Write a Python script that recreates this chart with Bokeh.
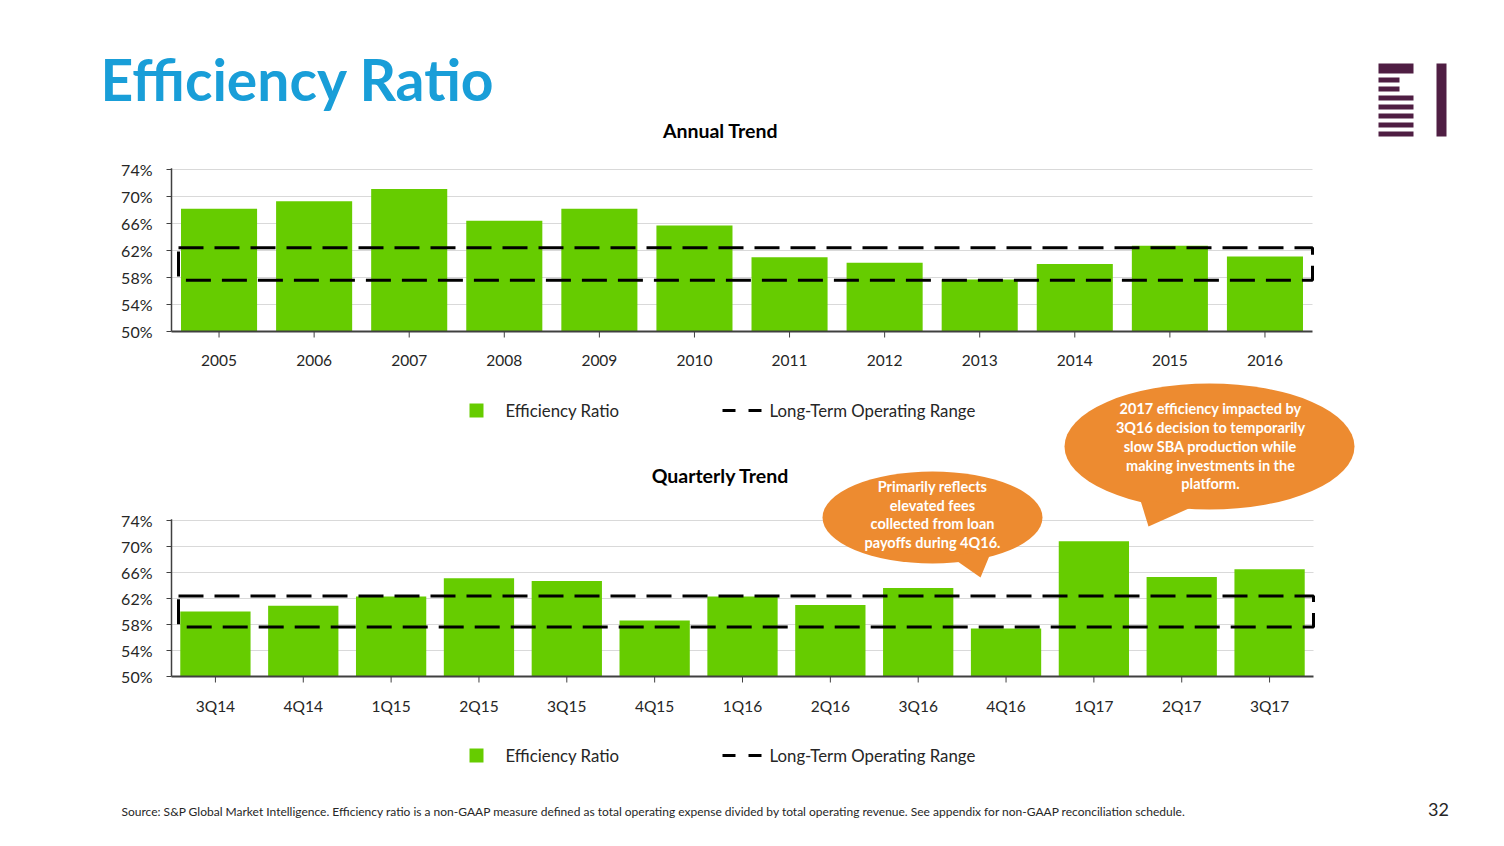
from bokeh.plotting import figure
from bokeh.models import Range1d
from bokeh.core.properties import value
from bokeh.embed import file_html
from bokeh.resources import INLINE

# ---------------- data ----------------
years = ["2005", "2006", "2007", "2008", "2009", "2010", "2011", "2012", "2013", "2014", "2015", "2016"]
annual_ratio = [68.2, 69.3, 71.1, 66.4, 68.2, 65.7, 61.0, 60.2, 57.7, 60.0, 62.7, 61.1]

quarters = ["3Q14", "4Q14", "1Q15", "2Q15", "3Q15", "4Q15", "1Q16", "2Q16", "3Q16", "4Q16", "1Q17", "2Q17", "3Q17"]
quarterly_ratio = [60.0, 60.9, 62.3, 65.1, 64.7, 58.6, 62.3, 61.0, 63.6, 57.4, 70.8, 65.3, 66.5]

y_ticks = [50, 54, 58, 62, 66, 70, 74]
y_tick_labels = ["50%", "54%", "58%", "62%", "66%", "70%", "74%"]

range_low = 57.6
range_high = 62.4

series_label = "Efficiency Ratio"
range_label = "Long-Term Operating Range"

callout_q = ["Primarily reflects", "elevated fees", "collected from loan", "payoffs during 4Q16."]
callout_a = ["2017 efficiency impacted by", "3Q16 decision to temporarily", "slow SBA production while",
             "making investments in the", "platform."]

footnote = ("Source: S&P Global Market Intelligence. Efficiency ratio is a non-GAAP measure defined as total "
            "operating expense divided by total operating revenue.  See appendix for non-GAAP reconciliation schedule.")

# ---------------- styling ----------------
FONT = value("Lato")
GREEN = "#66CC00"
ORANGE = "#ED8B30"
BLUE = "#199ED8"
PURPLE = "#4F1E43"
TXT = "#262626"
GRID = "#D9D9D9"
AXIS = "#404040"

W, H = 1504, 846
p = figure(width=W, height=H, x_range=Range1d(0, W), y_range=Range1d(H, 0),
           min_border=0, output_backend="svg", toolbar_location=None,
           x_axis_location=None, y_axis_location=None)
p.grid.visible = False
p.outline_line_color = None
p.background_fill_color = "white"
p.border_fill_color = "white"


def add_chart(name, cats, vals, left, right, top_px, bottom_px):
    n = len(cats)
    ux = (right - left) / n
    xs = -0.5 - left / ux
    p.extra_x_ranges[name + "x"] = Range1d(xs, xs + W / ux)
    uy = (bottom_px - top_px) / (y_ticks[-1] - y_ticks[0])
    ys = y_ticks[0] - (H - bottom_px) / uy
    p.extra_y_ranges[name + "y"] = Range1d(ys, ys + H / uy)
    kw = dict(x_range_name=name + "x", y_range_name=name + "y")
    idx = list(range(n))
    x0, x1 = -0.5, n - 0.5
    base = y_ticks[0]

    # gridlines
    gt = y_ticks[1:]
    p.segment(x0=[x0] * len(gt), x1=[x1] * len(gt), y0=gt, y1=gt, line_color=GRID, line_width=1, **kw)
    # bars
    p.vbar(x=idx, top=vals, bottom=base, width=0.8, fill_color=GREEN, line_color=None, **kw)
    # axes
    p.segment(x0=[x0], x1=[x0], y0=[base], y1=[y_ticks[-1] + 1.2 / uy], line_color=AXIS, line_width=1.5, **kw)
    p.segment(x0=[x0 - 5 / ux] * len(y_ticks), x1=[x0] * len(y_ticks), y0=y_ticks, y1=y_ticks,
              line_color=AXIS, line_width=1, **kw)
    p.segment(x0=[x0], x1=[x1], y0=[base], y1=[base], line_color=AXIS, line_width=2, **kw)
    p.segment(x0=idx, x1=idx, y0=[base] * n, y1=[base - 6 / uy] * n, line_color=AXIS, line_width=1, **kw)
    p.text(x=[x0 - 19 / ux] * len(y_ticks), y=y_ticks, text=y_tick_labels, text_font=FONT,
           text_font_size="16px", text_color=TXT, text_align="right", text_baseline="middle", **kw)
    p.text(x=idx, y=[base - 29 / uy] * n, text=cats, text_font=FONT, text_font_size="15.5px",
           text_color=TXT, text_align="center", text_baseline="middle", **kw)
    # long-term operating range box
    rx0 = x0 + 7 / ux
    p.line(x=[rx0, x1, x1, rx0, rx0], y=[range_high, range_high, range_low, range_low, range_high],
           line_color="black", line_width=3, line_dash="25 11", **kw)


def add_legend(y):
    p.rect(x=[476], y=[y], width=14, height=14, fill_color=GREEN, line_color=None)
    p.text(x=[505], y=[y], text=[series_label], text_font=FONT, text_font_size="16.8px",
           text_color=TXT, text_baseline="middle")
    p.segment(x0=[722, 748], x1=[735, 761], y0=[y, y], y1=[y, y], line_color="black", line_width=3)
    p.text(x=[769], y=[y], text=[range_label], text_font=FONT, text_font_size="16.8px",
           text_color=TXT, text_baseline="middle")


# title
p.text(x=[100], y=[78], text=["Efficiency Ratio"], text_font=FONT, text_font_style="bold",
       text_font_size="57px", text_color=BLUE, text_baseline="middle")

# logo
p.quad(left=[1378], right=[1413], top=[63], bottom=[73], fill_color=PURPLE, line_color=None)
p.quad(left=[1378, 1378], right=[1399, 1399], top=[77, 86], bottom=[82, 91], fill_color=PURPLE, line_color=None)
p.quad(left=[1378] * 5, right=[1413] * 5, top=[95, 104, 113, 122, 131], bottom=[100, 109, 118, 127, 136],
       fill_color=PURPLE, line_color=None)
p.quad(left=[1436], right=[1446], top=[63], bottom=[136], fill_color=PURPLE, line_color=None)

# chart titles
p.text(x=[720, 720], y=[130, 475], text=["Annual Trend", "Quarterly Trend"], text_font=FONT,
       text_font_style="bold", text_font_size="19.5px", text_color="black", text_align="center",
       text_baseline="middle")

add_chart("a", years, annual_ratio, 171, 1312, 169, 331)
add_legend(410)
add_chart("q", quarters, quarterly_ratio, 171, 1313, 520, 676)
add_legend(755)

# callouts
p.ellipse(x=[932], y=[517], width=220, height=92, fill_color=ORANGE, line_color=None)
p.patch(x=[950, 992, 980], y=[556, 548, 577], fill_color=ORANGE, line_color=None)
p.text(x=[932] * len(callout_q), y=[486, 505, 523, 542], text=callout_q, text_font=FONT,
       text_font_style="bold", text_font_size="14.5px", text_color="white", text_align="center",
       text_baseline="middle")

p.ellipse(x=[1209], y=[446], width=290, height=126, fill_color=ORANGE, line_color=None)
p.patch(x=[1140, 1195, 1148], y=[500, 505, 526], fill_color=ORANGE, line_color=None)
p.text(x=[1210] * len(callout_a), y=[408, 427, 446, 465, 483], text=callout_a, text_font=FONT,
       text_font_style="bold", text_font_size="14.5px", text_color="white", text_align="center",
       text_baseline="middle")

# footer
p.text(x=[121], y=[811], text=[footnote], text_font=FONT, text_font_size="12px", text_color=TXT,
       text_baseline="middle")
p.text(x=[1438], y=[809], text=["32"], text_font=FONT, text_font_size="18px", text_color=TXT,
       text_align="center", text_baseline="middle")

open("out.html", "w").write(file_html(p, INLINE))
